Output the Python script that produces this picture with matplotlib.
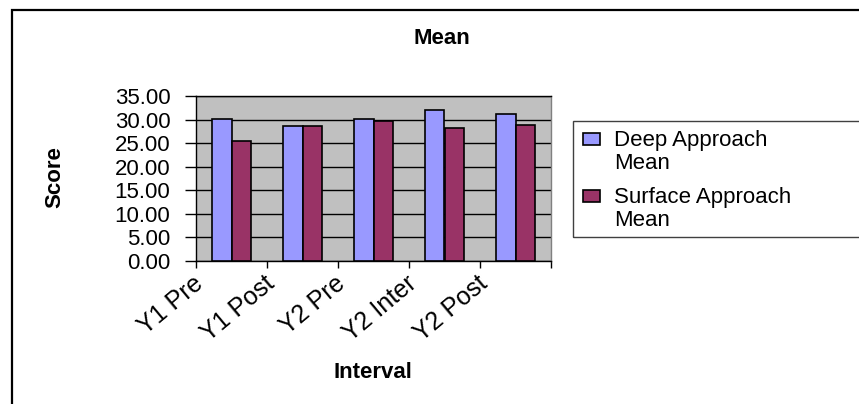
import matplotlib
matplotlib.use("Agg")
import matplotlib.pyplot as plt
from matplotlib.patches import Rectangle
from matplotlib.transforms import ScaledTranslation
import numpy as np

categories = ['Y1 Pre', 'Y1 Post', 'Y2 Pre', 'Y2 Inter', 'Y2 Post']
deep_mean = [30.1, 28.6, 30.1, 32.0, 31.1]
surface_mean = [25.5, 28.6, 29.6, 28.3, 28.9]
series_names = ['Deep Approach\nMean', 'Surface Approach\nMean']
yticks = [0, 5, 10, 15, 20, 25, 30, 35]

plt.rcParams['font.family'] = ['Liberation Sans', 'DejaVu Sans']

W, H = 859, 404
fig = plt.figure(figsize=(W / 100, H / 100), dpi=100)

def fx(px):
    return px / W

def fy(py):
    return 1 - py / H

ax = fig.add_axes([fx(196), fy(261), fx(551) - fx(196), fy(96) - fy(261)])
ax.set_facecolor('#C0C0C0')

x = np.arange(len(categories))
bw = 0.275
b1 = ax.bar(x - bw / 2, deep_mean, bw, color='#9999FF', edgecolor='black', linewidth=1.2, zorder=3)
b2 = ax.bar(x + bw / 2, surface_mean, bw, color='#993366', edgecolor='black', linewidth=1.2, zorder=3)

ax.set_xlim(-0.5, len(categories) - 0.5)
ax.set_ylim(0, 35)
ax.set_yticks(yticks)
ax.set_yticklabels([f'{v:.2f}' for v in yticks], fontsize=16)
ax.yaxis.grid(True, color='black', linewidth=1.0, zorder=1)
ax.set_axisbelow(True)

ax.set_xticks(np.arange(-0.5, len(categories), 1.0))
ax.set_xticklabels([])
ax.tick_params(axis='x', which='major', direction='out', length=5, width=1, color='black')
ax.tick_params(axis='y', direction='out', length=8, width=1, color='black', pad=10.5)

# Category labels, rotated, offset left of category centre as in the reference
off = ScaledTranslation(-0.39, -0.10, fig.dpi_scale_trans)
for xi, name in zip(x, categories):
    ax.text(xi, 0, name, transform=ax.get_xaxis_transform() + off, rotation=40,
            ha='right', va='top', rotation_mode='anchor', fontsize=18)

for s in ['left', 'bottom', 'top']:
    ax.spines[s].set_color('black')
    ax.spines[s].set_linewidth(1.0)
ax.spines['right'].set_color('#808080')
ax.spines['right'].set_linewidth(1.0)

# Titles / axis labels
fig.text(fx(442), fy(38), 'Mean', ha='center', va='center', fontsize=16, fontweight='bold')
fig.text(fx(55), fy(177), 'Score', ha='center', va='center', rotation=90, fontsize=16, fontweight='bold')
fig.text(fx(373), fy(373), 'Interval', ha='center', va='center', fontsize=16, fontweight='bold')

# Outer chart frame
fig.patches.append(Rectangle((fx(12), -0.1), 1.2, fy(10) + 0.1, transform=fig.transFigure,
                             fill=False, edgecolor='black', linewidth=1.6))

# Legend frame
fig.patches.append(Rectangle((fx(573), fy(237)), 0.5, fy(121) - fy(237), transform=fig.transFigure,
                             fill=False, edgecolor='#404040', linewidth=1.0))

# Legend entries (marker aligned with first line of each label, as in the reference)
legend_rows = [(b1, 133), (b2, 190)]
for (bars, top_px), name in zip(legend_rows, series_names):
    src = bars.patches[0]
    fig.patches.append(Rectangle((fx(583), fy(top_px + 12)), fx(600) - fx(583), 12 / H,
                                 transform=fig.transFigure, facecolor=src.get_facecolor(),
                                 edgecolor='black', linewidth=1.2))
    fig.text(fx(614), fy(top_px - 3), name, ha='left', va='top', fontsize=16, linespacing=1.15)

fig.savefig('out.png', dpi=100)
